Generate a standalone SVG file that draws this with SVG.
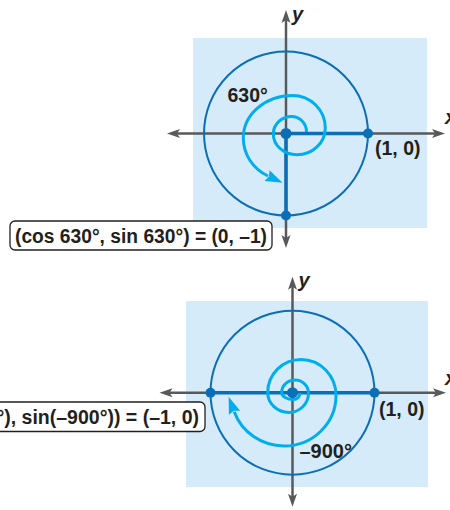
<svg xmlns="http://www.w3.org/2000/svg" width="450" height="510" viewBox="0 0 450 510">
<style>
.bg{fill:#d5ebf9;stroke:none}
.axis{stroke:#58595b;stroke-width:2.5;fill:none}
.unit{stroke:#0a6fb7;stroke-width:2;fill:none}
.ray{stroke:#0a6fb7;stroke-width:3.5;fill:none}
.spiral{stroke:#00aeef;stroke-width:3;fill:none}
.dot{fill:#0a6fb7}
.lbl{font-family:"Liberation Sans",Arial,sans-serif;font-weight:bold;fill:#231f20}
.var{font-family:"Liberation Sans",Arial,sans-serif;font-weight:bold;font-style:italic;fill:#231f20}
.box{fill:#ffffff;stroke:#231f20;stroke-width:1.3}
</style>
<defs>
<marker id="axhead" viewBox="-7 -6 17 12" markerWidth="17" markerHeight="12" refX="0" refY="0" orient="auto-start-reverse" markerUnits="userSpaceOnUse">
<path d="M8,0 L-5,-4.5 L-2,0 L-5,4.5 Z" fill="#58595b"/>
</marker>
<marker id="sphead" viewBox="-2 -8 22 16" markerWidth="22" markerHeight="16" refX="1" refY="0" orient="auto" markerUnits="userSpaceOnUse">
<path d="M0,-6 L17,0 L0,6 L2,0 Z" fill="#00aeef"/>
</marker>
</defs>

<g id="top-diagram">
<rect class="bg" x="193" y="38" width="234" height="190"/>
<g id="top-axes">
<line class="axis" x1="175" y1="133.5" x2="437" y2="133.5" marker-start="url(#axhead)" marker-end="url(#axhead)"/>
<line class="axis" x1="286" y1="18" x2="286" y2="240" marker-start="url(#axhead)" marker-end="url(#axhead)"/>
</g>
<circle class="unit" cx="286" cy="133.5" r="82"/>
<g id="top-connectors">
<path class="ray" d="M286,133.5 H368 M286,133.5 V215.5"/>
<path class="spiral" marker-end="url(#sphead)" d="M306.5,132 A15,15.5 0 0 0 291.5,116.5 A18.2,17.5 0 0 0 273.3,134 A23.7,20.8 0 0 0 297,154.8 A28.3,26.8 0 0 0 325.3,128 A32.8,32.5 0 0 0 292.5,95.5 A49.2,42.5 0 0 0 243.3,138 A42.7,42 0 0 0 268,176"/>
</g>
<g id="top-points">
<circle class="dot" cx="286" cy="133.5" r="5.5"/>
<circle class="dot" cx="368" cy="133.5" r="5"/>
<circle class="dot" cx="286" cy="215.5" r="5"/>
</g>
<text class="var" x="292" y="21" font-size="20">y</text>
<text class="var" x="445" y="124" font-size="20">x</text>
<text class="lbl" x="227.5" y="102" font-size="19.5">630°</text>
<text class="lbl" x="375" y="155" font-size="19.5">(1, 0)</text>
<g id="top-label">
<rect class="box" x="10" y="221" width="262" height="29" rx="5"/>
<text class="lbl" x="141" y="243" font-size="20" text-anchor="middle" textLength="252" lengthAdjust="spacingAndGlyphs">(cos 630°, sin 630°) = (0, –1)</text>
</g>
</g>

<g id="bottom-diagram">
<rect class="bg" x="186" y="301" width="242" height="186"/>
<g id="bottom-axes">
<line class="axis" x1="167.5" y1="392.7" x2="438" y2="392.7" marker-start="url(#axhead)" marker-end="url(#axhead)"/>
<line class="axis" x1="292.5" y1="284.7" x2="292.5" y2="498.7" marker-start="url(#axhead)" marker-end="url(#axhead)"/>
</g>
<circle class="unit" cx="292.5" cy="392.7" r="82"/>
<g id="bottom-connectors">
<path class="ray" d="M210.5,392.7 H374.5"/>
<path class="spiral" marker-end="url(#sphead)" d="M300,393 A6.5,6.5 0 0 1 293.5,399.5 A11.8,7 0 0 1 281.7,392.5 A13.3,12.5 0 0 1 295,380 A13.5,13 0 0 1 308.5,393 A19.5,19.5 0 0 1 289,412.5 A21.3,20 0 0 1 267.7,392.5 A33.3,33 0 0 1 301,359.5 A35,36 0 0 1 336,395.5 A52,50.5 0 0 1 284,446 A53,52 0 0 1 234.2,411.8"/>
</g>
<g id="bottom-points">
<circle class="dot" cx="292.5" cy="392.7" r="5.5"/>
<circle class="dot" cx="374.5" cy="392.7" r="5"/>
<circle class="dot" cx="210.5" cy="392.7" r="5"/>
</g>
<text class="var" x="298.5" y="287" font-size="20">y</text>
<text class="var" x="445" y="385" font-size="20">x</text>
<text class="lbl" x="379" y="416" font-size="19.5">(1, 0)</text>
<text class="lbl" x="299.5" y="457.5" font-size="20">–900°</text>
<g id="bottom-label">
<rect class="box" x="-60" y="402" width="265" height="29.5" rx="5"/>
<text class="lbl" x="199" y="423.5" font-size="19.5" text-anchor="end">(cos(–900°), sin(–900°)) = (–1, 0)</text>
</g>
</g>
</svg>
